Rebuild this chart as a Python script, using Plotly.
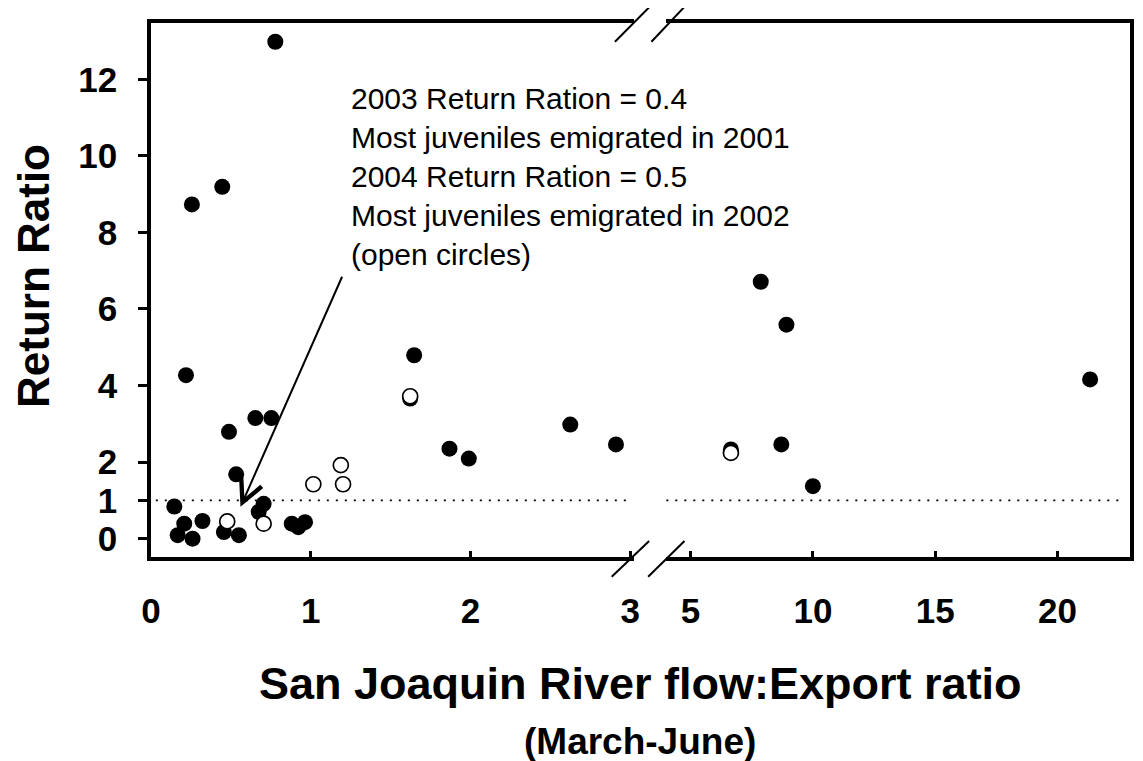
import plotly.graph_objects as go

# ---- data ----
filled_x = [0.146, 0.167, 0.208, 0.219, 0.256, 0.26, 0.322, 0.446, 0.456, 0.488,
            0.533, 0.55, 0.653, 0.674, 0.705, 0.753, 0.778, 0.881, 0.922, 0.964,
            1.622, 1.647, 1.868, 1.989, 2.624, 2.91,
            6.65, 7.87, 8.92, 8.71, 10.0, 21.33]
filled_y = [0.84, 0.09, 0.39, 4.27, 8.73, 0.0, 0.46, 9.19, 0.17, 2.79,
            1.68, 0.09, 3.15, 0.70, 0.91, 3.15, 12.98, 0.39, 0.30, 0.43,
            3.66, 4.79, 2.35, 2.09, 2.98, 2.46,
            2.33, 6.71, 5.59, 2.46, 1.37, 4.16]
open_x = [0.477, 0.705, 1.016, 1.188, 1.202, 1.622, 6.65]
open_y = [0.45, 0.39, 1.42, 1.92, 1.42, 3.72, 2.24]

left_ticks = [0, 1, 2, 3]
right_ticks = [5, 10, 15, 20]
y_ticks = [0, 1, 2, 4, 6, 8, 10, 12]
ref_level = 1
BREAK = 3.5

note_text = ("2003 Return Ration = 0.4<br>Most juveniles emigrated in 2001<br>"
             "2004 Return Ration = 0.5<br>Most juveniles emigrated in 2002<br>(open circles)")
x_title = "San Joaquin River flow:Export ratio"
x_subtitle = "(March-June)"
y_title = "Return Ratio"

# ---- layout geometry (reference pixel frame; page body has an 8px margin) ----
OFF = 8
WIN_W, WIN_H = 1143, 761
L, R, T, B = 151, 1137, 23, 557
PW, PH = R - L, B - T


def px(xp):
    return (xp - L) / PW


def py(yp):
    return (B - yp) / PH


FONT = "Liberation Sans, Arial, sans-serif"

fig = go.Figure()


def split(xs, ys, left):
    pts = [(a, b) for a, b in zip(xs, ys) if (a < BREAK) == left]
    return [p[0] for p in pts], [p[1] for p in pts]


for left, xa, ya in [(True, "x", "y"), (False, "x2", "y2")]:
    fx, fy = split(filled_x, filled_y, left)
    fig.add_trace(go.Scatter(x=fx, y=fy, mode="markers", xaxis=xa, yaxis=ya,
                             marker=dict(size=16, color="black", line=dict(width=0)),
                             showlegend=False, cliponaxis=False))
    ox, oy = split(open_x, open_y, left)
    fig.add_trace(go.Scatter(x=ox, y=oy, mode="markers", xaxis=xa, yaxis=ya,
                             marker=dict(size=15, color="white", line=dict(width=1.7, color="black")),
                             showlegend=False, cliponaxis=False))

axis_common = dict(showgrid=False, zeroline=False, linecolor="black", linewidth=3.5,
                   showline=True, tickcolor="black",
                   tickfont=dict(family=FONT, size=35, color="black", weight="bold"))

fig.update_layout(
    width=WIN_W - OFF, height=WIN_H - OFF,
    margin=dict(l=L - OFF, r=WIN_W - R, t=T - OFF, b=WIN_H - B),
    paper_bgcolor="white", plot_bgcolor="white",
    xaxis=dict(domain=[0, px(637)], range=[0, 3.02], tickvals=left_ticks,
               ticks="inside", ticklen=6, tickwidth=2.5, mirror=True,
               ticklabelstandoff=20, anchor="y", **axis_common),
    xaxis2=dict(domain=[px(670), 1], range=[4.01, 22.96], tickvals=right_ticks,
                ticks="inside", ticklen=6, tickwidth=2.5, mirror=True,
                ticklabelstandoff=20, anchor="y2", **axis_common),
    yaxis=dict(range=[-0.48, 13.47], tickvals=y_ticks, ticks="outside", ticklen=9,
               tickwidth=2.5, anchor="x", ticklabelstandoff=14, **axis_common),
    yaxis2=dict(range=[-0.48, 13.47], matches="y", anchor="x2", side="right",
                showticklabels=False, ticks="", showline=True, linecolor="black",
                linewidth=3.5, showgrid=False, zeroline=False),
)

# dotted reference line at ratio = 1
dot = dict(color="black", width=1.8, dash="2px,7px")
fig.add_shape(type="line", xref="x domain", yref="y", x0=0.01, x1=0.985,
              y0=ref_level, y1=ref_level, line=dot)
fig.add_shape(type="line", xref="x2 domain", yref="y2", x0=0.0, x1=0.99,
              y0=ref_level, y1=ref_level, line=dot)

# axis break marks
for (x0, y0, x1, y1) in [(615, 576.7, 652.7, 541), (651.7, 576.7, 688.3, 541),
                         (618.3, 41.7, 655, 5), (655, 41.7, 690, 5)]:
    fig.add_shape(type="line", xref="paper", yref="paper",
                  x0=px(x0), y0=py(y0), x1=px(x1), y1=py(y1),
                  line=dict(color="black", width=2))

# note text
fig.add_annotation(x=px(350), y=py(80), xref="paper", yref="paper",
                   xanchor="left", yanchor="top", align="left", showarrow=False,
                   text=note_text, font=dict(family=FONT, size=30, color="black"))

# arrow
fig.add_annotation(x=0.56, y=0.83, xref="x", yref="y", ax=1.20, ay=6.88,
                   axref="x", ayref="y", text="", showarrow=True,
                   arrowhead=5, arrowsize=2.2, arrowwidth=2, arrowcolor="black")

# axis titles
fig.add_annotation(x=0, y=py(276), xref="paper", yref="paper", xshift=-(L - 33),
                   xanchor="center", yanchor="middle", textangle=-90, showarrow=False,
                   text=y_title, font=dict(family=FONT, size=44, color="black", weight="bold"))
fig.add_annotation(x=px(644), y=0, xref="paper", yref="paper", yshift=-(683 - B),
                   xanchor="center", yanchor="middle", showarrow=False,
                   text=x_title, font=dict(family=FONT, size=45, color="black", weight="bold"))
fig.add_annotation(x=px(643), y=0, xref="paper", yref="paper", yshift=-(741 - B),
                   xanchor="center", yanchor="middle", showarrow=False,
                   text=x_subtitle, font=dict(family=FONT, size=37, color="black", weight="bold"))

fig.write_html("out.html")
